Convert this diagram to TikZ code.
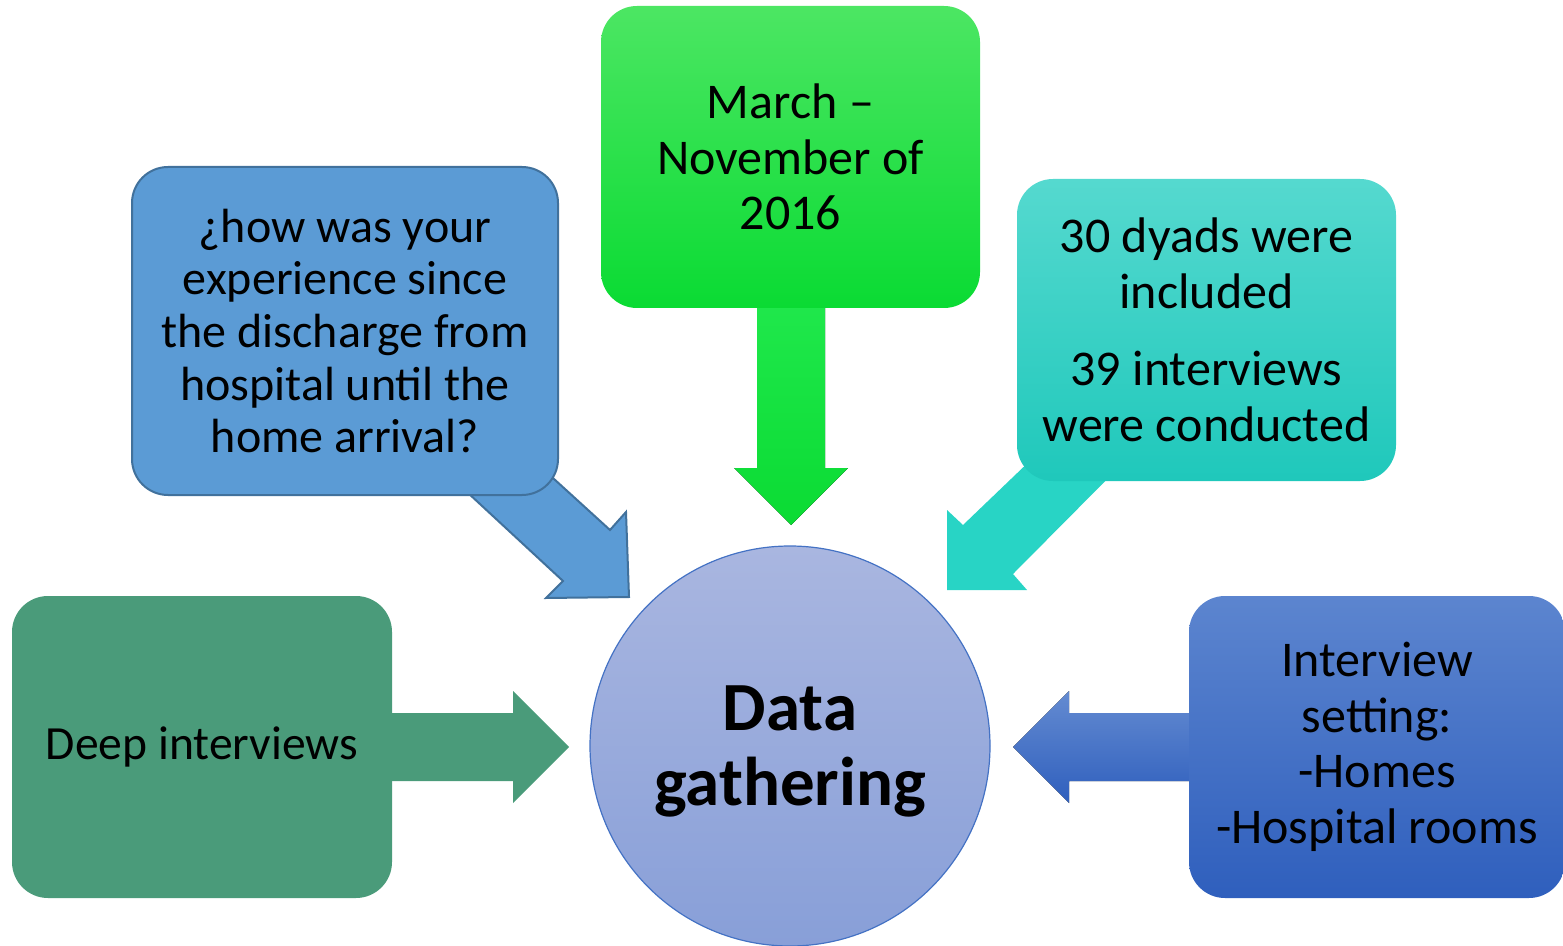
\documentclass[tikz,border=0pt]{standalone}
\usepackage{fontspec}
\setmainfont{Carlito}
\definecolor{qblue}{HTML}{5B9BD5}
\definecolor{qborder}{HTML}{41719C}
\definecolor{gtop}{HTML}{4CE663}
\definecolor{gbot}{HTML}{0ADB33}
\definecolor{garrtop}{HTML}{20E84C}
\definecolor{ttop}{HTML}{55D9CF}
\definecolor{tbot}{HTML}{1FC8BB}
\definecolor{tarr}{HTML}{28D4C5}
\definecolor{dbtop}{HTML}{5C85CF}
\definecolor{dbbot}{HTML}{2F5FBD}
\definecolor{sea}{HTML}{4A9B7A}
\definecolor{ctop}{HTML}{A9B6E0}
\definecolor{cbot}{HTML}{889FD8}
\definecolor{cborder}{HTML}{4472C4}
\begin{document}
\begin{tikzpicture}[x=0.5pt,y=-0.5pt,
  box/.style={rectangle, rounded corners=18pt, align=center, inner sep=0pt,
    font=\fontsize{25}{27.8}\selectfont},
  blockarrow/.style={line join=miter}]
\useasboundingbox (0,0) rectangle (1563,946);

% arrows (drawn first, boxes on top)
\fill[blockarrow, top color=garrtop, bottom color=gbot]
  (757,300) -- (825,300) -- (825,468) -- (848,468) -- (791,525) -- (734,468) -- (757,468) -- cycle;
\filldraw[blockarrow, fill=qblue, draw=qborder, line width=1pt]
  (629,597) -- (546,598) -- (563,581) -- (440,467) -- (520,448) -- (610,530) -- (626,512) -- cycle;
\fill[blockarrow, tarr]
  (947,590) -- (947,510) -- (963,525) -- (1060,432) -- (1140,446) -- (1013,574) -- (1027,590) -- cycle;
\fill[blockarrow, sea]
  (380,713) -- (513,713) -- (513,691) -- (569,747) -- (513,803) -- (513,781) -- (380,781) -- cycle;
\fill[blockarrow, top color=dbtop!95!white, bottom color=dbbot]
  (1200,713) -- (1069,713) -- (1069,691) -- (1013,747) -- (1069,803) -- (1069,781) -- (1200,781) -- cycle;

% boxes
\node[box, fill=qblue, draw=qborder, line width=1pt, minimum width=213pt, minimum height=164pt,
  font=\fontsize{24}{26.3}\selectfont]
  (question) at (345,331) {¿how was your\\experience since\\the discharge from\\hospital until the\\home arrival?};
\node[box, top color=gtop, bottom color=gbot, minimum width=189.5pt, minimum height=151pt]
  (period) at (790.5,157) {March –\\November of\\2016};
\node[box, top color=ttop, bottom color=tbot, minimum width=189.5pt, minimum height=151pt]
  (counts) at (1206.5,330) {30 dyads were\\included\\[11pt]39 interviews\\were conducted};
\node[box, fill=sea, minimum width=190pt, minimum height=151pt, font=\fontsize{23.8}{27.5}\selectfont]
  (deep) at (202,747) {Deep interviews};
\node[box, top color=dbtop, bottom color=dbbot, minimum width=188pt, minimum height=151pt]
  (setting) at (1377,747) {Interview\\setting:\\-Homes\\-Hospital rooms};

% centre circle
\node[circle, top color=ctop, bottom color=cbot, draw=cborder, line width=0.6pt,
  minimum size=200pt, inner sep=0pt] (data) at (790,746) {};
\node[align=center, inner sep=0pt, font=\fontsize{34.5}{37.5}\selectfont\bfseries]
  (datatext) at (790,751) {Data\\gathering};
\end{tikzpicture}
\end{document}
